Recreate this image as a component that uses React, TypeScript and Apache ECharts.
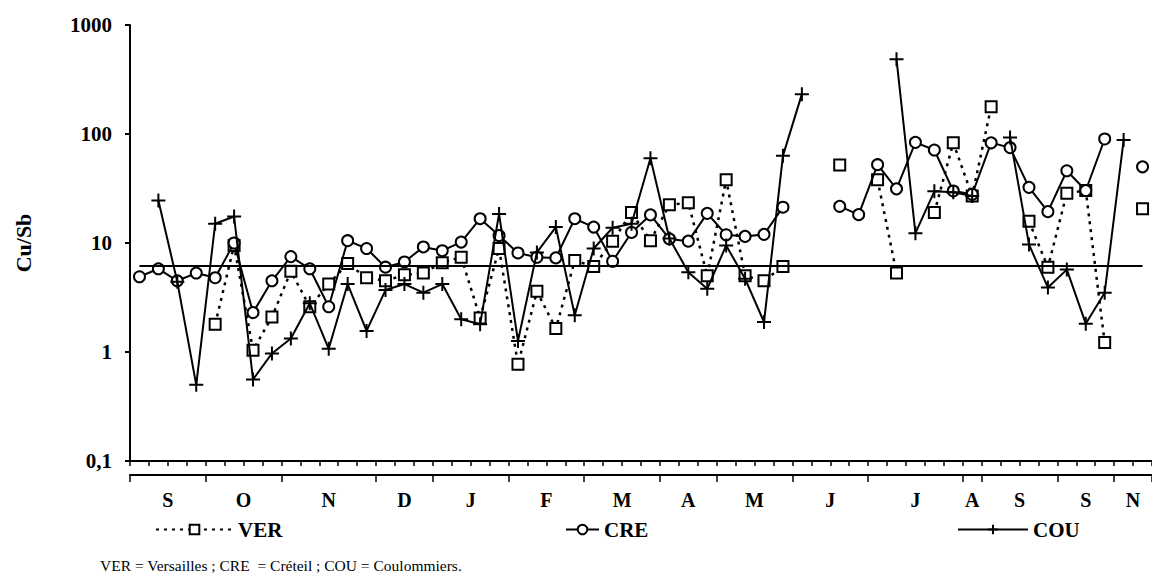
import React, { useEffect, useRef } from 'react';
import * as echarts from 'echarts';

// 54 consecutive samplings (Sept -> Nov of the following year)
const SAMPLES: string[] = Array.from({ length: 54 }, (_, i) => `${i + 1}`);

const VER: (number | null)[] = [
  null, null, null, null, 1.8, 9.5, 1.04, 2.1, 5.5, 2.6,
  4.2, 6.5, 4.8, 4.5, 5.1, 5.3, 6.6, 7.4, 2.05, 8.9,
  0.77, 3.6, 1.64, 6.9, 6.1, 10.4, 19, 10.5, 22.4, 23.4,
  5.0, 38, 5.0, 4.5, 6.1, null, null, 52, null, 38,
  5.3, null, 19, 83, 27, 178, null, 15.8, 6.0, 28.6,
  30.3, 1.22, null, 20.6,
];

const CRE: (number | null)[] = [
  4.9, 5.8, 4.5, 5.3, 4.8, 10.0, 2.3, 4.5, 7.5, 5.8,
  2.6, 10.5, 8.9, 6.0, 6.7, 9.2, 8.5, 10.2, 16.7, 11.7,
  8.1, 7.4, 7.3, 16.7, 14.0, 6.8, 12.5, 18.1, 10.9, 10.4,
  18.7, 11.9, 11.5, 12.0, 21.3, null, null, 21.7, 18.2, 52.3,
  31.4, 83.8, 71.3, 30, 28, 83, 75, 32.4, 19.4, 46,
  30.3, 90, null, 50,
];

const COU: (number | null)[] = [
  null, 24.5, 4.4, 0.5, 15, 17.5, 0.56, 0.97, 1.33, 2.8,
  1.07, 4.2, 1.56, 3.7, 4.2, 3.5, 4.2, 2.0, 1.8, 18.5,
  1.26, 8.2, 14, 2.17, 8.9, 13.8, 15, 60, 11, 5.4,
  3.8, 9.5, 4.7, 1.88, 63, 232, null, null, null, null,
  486, 12.3, 29.8, 29.2, 27, null, 93, 9.7, 3.9, 5.7,
  1.82, 3.5, 88, null,
];

const THRESHOLD = 6.2;

// month grouping on the second axis, in sample units
const MONTH_BOUNDS = [0, 4, 8, 13, 16, 20, 24, 28, 31, 35, 39, 44, 45, 49, 52, 54];
const MONTH_LABELS = ['S', 'O', 'N', 'D', 'J', 'F', 'M', 'A', 'M', 'J', 'J', 'A', 'S', 'S', 'N'];
const MONTH_CENTERS = MONTH_LABELS.map((_, i) => (MONTH_BOUNDS[i] + MONTH_BOUNDS[i + 1]) / 2);

const Y_TICKS = [0.1, 1, 10, 100, 1000];

const FOOTNOTE = 'VER = Versailles ; CRE  = Créteil ; COU = Coulommiers.';

const SERIF = "'Liberation Serif', 'Times New Roman', serif";
const BLACK = '#000';

export default function App() {
  const ref = useRef<HTMLDivElement>(null);

  useEffect(() => {
    document.body.style.margin = '0';
    document.body.style.overflow = 'hidden';
    if (!ref.current) return;
    const chart = echarts.init(ref.current, undefined, { renderer: 'svg' });

    const legendText = { fontFamily: SERIF, fontWeight: 'bold', fontSize: 21, color: BLACK };

    chart.setOption({
      animation: false,
      backgroundColor: '#fff',
      textStyle: { fontFamily: SERIF },
      title: {
        text: FOOTNOTE,
        left: 100,
        top: 557,
        padding: 0,
        textStyle: { fontFamily: SERIF, fontWeight: 'normal', fontSize: 15.5, color: BLACK },
      },
      legend: [
        {
          data: ['VER'], left: 155, top: 519, itemWidth: 77, itemHeight: 12, padding: 0,
          textStyle: legendText, selectedMode: false,
        },
        {
          data: ['CRE'], left: 565, top: 519, itemWidth: 33, itemHeight: 12, padding: 0,
          textStyle: legendText, selectedMode: false,
        },
        {
          data: ['COU'], left: 957, top: 519, itemWidth: 70, itemHeight: 12, padding: 0,
          textStyle: legendText, selectedMode: false,
        },
      ],
      grid: { left: 130, right: -11, top: 25, bottom: 116, containLabel: false },
      xAxis: [
        {
          type: 'category',
          data: SAMPLES,
          boundaryGap: true,
          position: 'bottom',
          axisLine: { show: true, lineStyle: { color: BLACK, width: 2 } },
          axisTick: { show: true, interval: 0, length: 5, lineStyle: { color: BLACK, width: 1.5 } },
          axisLabel: { show: false },
          splitLine: { show: false },
        },
        {
          type: 'value',
          min: 0,
          max: 54,
          position: 'bottom',
          offset: 14,
          axisLine: { show: true, onZero: false, lineStyle: { color: BLACK, width: 2 } },
          axisTick: { show: true, length: 7, customValues: MONTH_BOUNDS, lineStyle: { color: BLACK, width: 1.5 } },
          axisLabel: {
            show: true,
            customValues: MONTH_CENTERS,
            margin: 15,
            fontFamily: SERIF,
            fontWeight: 'bold',
            fontSize: 20,
            color: BLACK,
            formatter: (v: number) => {
              const k = MONTH_CENTERS.findIndex((c) => Math.abs(c - v) < 1e-6);
              return k >= 0 ? MONTH_LABELS[k] : '';
            },
          },
          splitLine: { show: false },
        },
      ],
      yAxis: {
        type: 'log',
        logBase: 10,
        min: Y_TICKS[0],
        max: Y_TICKS[Y_TICKS.length - 1],
        name: 'Cu/Sb',
        nameLocation: 'middle',
        nameGap: 96,
        nameRotate: 90,
        nameTextStyle: { fontFamily: SERIF, fontWeight: 'bold', fontSize: 22, color: BLACK },
        axisLine: { show: true, lineStyle: { color: BLACK, width: 2 } },
        axisTick: { show: true, length: 5, lineStyle: { color: BLACK, width: 2 } },
        axisLabel: {
          margin: 18,
          fontFamily: SERIF,
          fontWeight: 'bold',
          fontSize: 21,
          color: BLACK,
          formatter: (v: number) => String(v).replace('.', ','),
        },
        splitLine: { show: false },
      },
      series: [
        {
          name: 'VER',
          type: 'line',
          data: VER,
          z: 2,
          symbol: 'rect',
          symbolSize: 11,
          showAllSymbol: true,
          connectNulls: false,
          lineStyle: { color: BLACK, width: 2.5, type: [3, 5] },
          itemStyle: { color: '#fff', borderColor: BLACK, borderWidth: 2 },
          markLine: {
            silent: true,
            symbol: 'none',
            label: { show: false },
            lineStyle: { color: BLACK, width: 2, type: 'solid' },
            data: [[{ coord: [SAMPLES[0], THRESHOLD] }, { coord: [SAMPLES[SAMPLES.length - 1], THRESHOLD] }]],
          },
        },
        {
          name: 'CRE',
          type: 'line',
          data: CRE,
          z: 3,
          symbol: 'circle',
          symbolSize: 11,
          showAllSymbol: true,
          connectNulls: false,
          lineStyle: { color: BLACK, width: 2 },
          itemStyle: { color: '#fff', borderColor: BLACK, borderWidth: 2 },
        },
        {
          name: 'COU',
          type: 'line',
          data: COU,
          z: 4,
          symbol: 'path://M0,7H14M7,0V14',
          symbolSize: 14,
          symbolKeepAspect: true,
          showAllSymbol: true,
          connectNulls: false,
          lineStyle: { color: BLACK, width: 2 },
          itemStyle: { color: BLACK, borderColor: BLACK, borderWidth: 2 },
        },
      ],
    });

    return () => chart.dispose();
  }, []);

  return <div ref={ref} style={{ width: 1152, height: 577 }} />;
}
